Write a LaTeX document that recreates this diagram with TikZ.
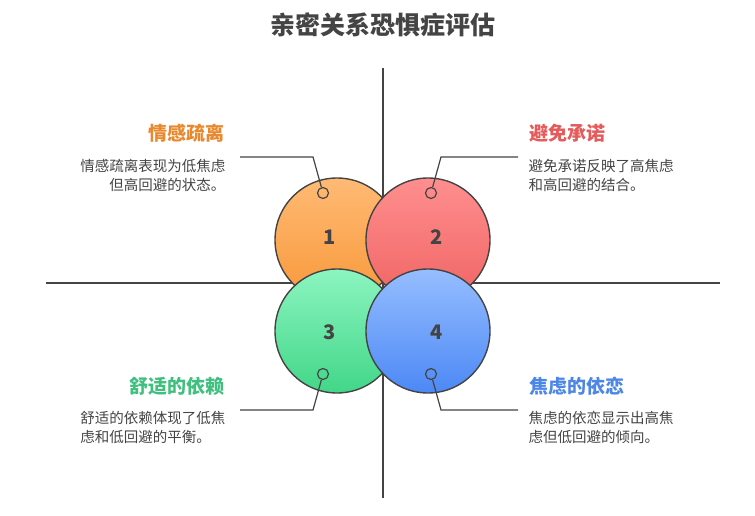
\documentclass[tikz,border=0pt]{standalone}
\usepackage{fontspec}
\setmainfont{Noto Sans CJK SC}
\usetikzlibrary{positioning}
\definecolor{ink}{HTML}{444444}
\definecolor{cOrange}{HTML}{E8892F}
\definecolor{cRed}{HTML}{E55A5A}
\definecolor{cGreen}{HTML}{3FC07E}
\definecolor{cBlue}{HTML}{4C87E8}
\tikzset{
  petal/.style={draw=ink,line width=1.4pt,shading=axis,shading angle=0},
  pin/.style={draw=ink,line width=1.2pt,fill=none},
  num/.style={font=\bfseries\fontsize{20}{24}\selectfont,text=ink},
  head/.style={font=\bfseries\fontsize{19}{23}\selectfont},
  body/.style={font=\fontsize{14.5}{19}\selectfont,text=ink},
}
\begin{document}
\begin{tikzpicture}[x=1pt,y=-1pt]
  \useasboundingbox (0,0) rectangle (755,516);
  % title
  \node[font=\bfseries\fontsize{25}{29}\selectfont,text=ink] (title) at (383,25) {亲密关系恐惧症评估};

  % axes
  \draw[ink,line width=1.2pt] (383,68) -- (383,498);
  \draw[ink,line width=1.2pt] (46,283) -- (720,283);

  % four circles
  \path[petal,top color={rgb,255:red,255;green,186;blue,116},bottom color={rgb,255:red,248;green,152;blue,58}] (337,240) circle (62);
  \path[petal,top color={rgb,255:red,255;green,142;blue,142},bottom color={rgb,255:red,240;green,100;blue,100}] (428,240) circle (62);
  \path[petal,top color={rgb,255:red,140;green,245;blue,192},bottom color={rgb,255:red,66;green,214;blue,136}] (337,331) circle (62);
  \path[petal,top color={rgb,255:red,150;green,190;blue,255},bottom color={rgb,255:red,76;green,136;blue,245}] (428,331) circle (62);
  \node[num] (n1) at (330,237) {1};
  \node[num] (n2) at (437,237) {2};
  \node[num] (n3) at (330,332) {3};
  \node[num] (n4) at (437,332) {4};

  % pins and leaders
  \node[pin,circle,minimum size=11pt,inner sep=0pt] (p1) at (323,193) {};
  \node[pin,circle,minimum size=11pt,inner sep=0pt] (p2) at (431,193) {};
  \node[pin,circle,minimum size=11pt,inner sep=0pt] (p3) at (323,374) {};
  \node[pin,circle,minimum size=11pt,inner sep=0pt] (p4) at (431,374) {};
  \coordinate (k1) at (313,157); \coordinate (e1) at (240,157);
  \coordinate (k2) at (441,157); \coordinate (e2) at (518,157);
  \coordinate (k3) at (313,410); \coordinate (e3) at (240,410);
  \coordinate (k4) at (441,410); \coordinate (e4) at (518,410);
  \draw[ink,line width=1.2pt] (p1) -- (k1) -- (e1);
  \draw[ink,line width=1.2pt] (p2) -- (k2) -- (e2);
  \draw[ink,line width=1.2pt] (p3) -- (k3) -- (e3);
  \draw[ink,line width=1.2pt] (p4) -- (k4) -- (e4);

  % labels
  \node[head,text=cOrange,anchor=east] (h1) at (228,133) {情感疏离};
  \node[body,anchor=north east,align=right] (t1) at (229,156) {情感疏离表现为低焦虑\\但高回避的状态。};
  \node[head,text=cRed,anchor=west] (h2) at (526,133) {避免承诺};
  \node[body,anchor=north west,align=left] (t2) at (525,156) {避免承诺反映了高焦虑\\和高回避的结合。};
  \node[head,text=cGreen,anchor=east] (h3) at (228,386) {舒适的依赖};
  \node[body,anchor=north east,align=left] (t3) at (229,408) {舒适的依赖体现了低焦\\虑和低回避的平衡。};
  \node[head,text=cBlue,anchor=west] (h4) at (526,386) {焦虑的依恋};
  \node[body,anchor=north west,align=left] (t4) at (525,408) {焦虑的依恋显示出高焦\\虑但低回避的倾向。};
\end{tikzpicture}
\end{document}
